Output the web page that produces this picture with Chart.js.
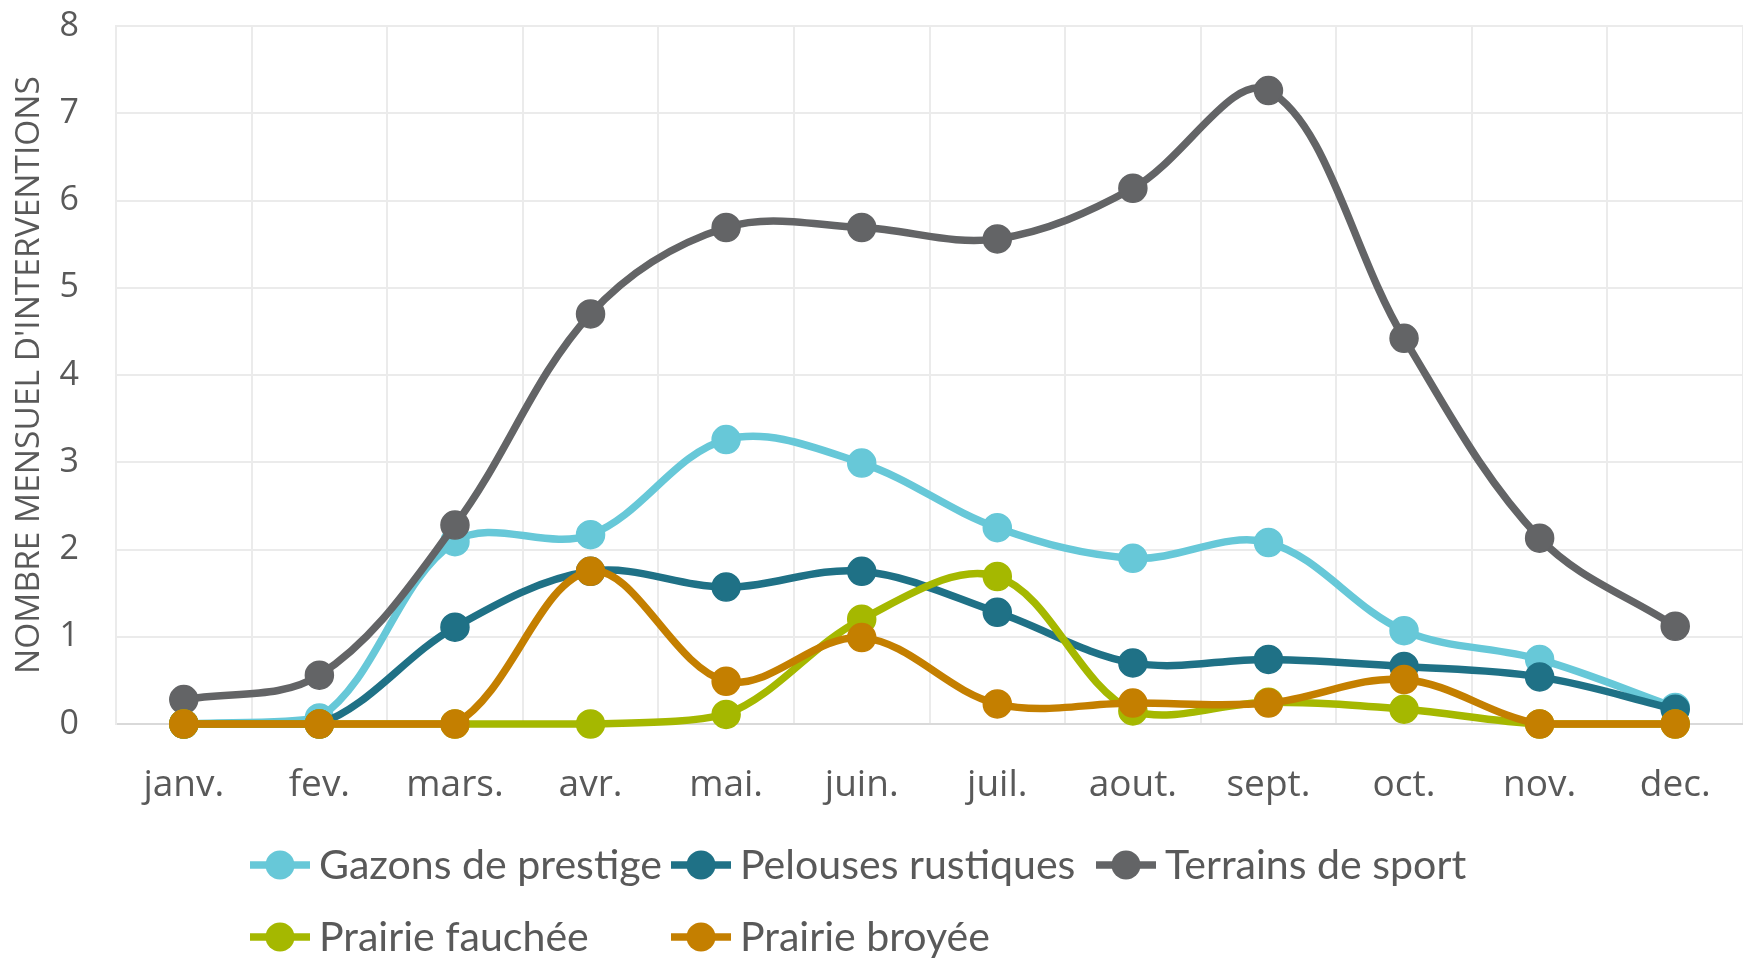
<!DOCTYPE html>
<html>
<head>
<meta charset="utf-8">
<script src="https://cdn.jsdelivr.net/npm/chart.js@4/dist/chart.umd.min.js"></script>
<style>
  html, body { margin: 0; padding: 0; background: #ffffff; }
  #wrap { width: 1743px; height: 958px; }
</style>
</head>
<body>
<div id="wrap"><canvas id="c" width="1743" height="958"></canvas></div>
<script>
// ---- Data ----
const months = ['janv.', 'fev.', 'mars.', 'avr.', 'mai.', 'juin.', 'juil.', 'aout.', 'sept.', 'oct.', 'nov.', 'dec.'];
const seriesNames = ['Gazons de prestige', 'Pelouses rustiques', 'Terrains de sport', 'Prairie fauchée', 'Prairie broyée'];
const gazonsPrestige   = [0, 0.07, 2.09, 2.17, 3.26, 2.99, 2.25, 1.90, 2.08, 1.07, 0.74, 0.19];
const pelousesRustiques = [0, 0, 1.11, 1.75, 1.57, 1.75, 1.28, 0.70, 0.74, 0.66, 0.54, 0.17];
const terrainsSport    = [0.28, 0.56, 2.28, 4.70, 5.69, 5.69, 5.56, 6.14, 7.26, 4.42, 2.13, 1.12];
const prairieFauchee   = [0, 0, 0, 0, 0.11, 1.20, 1.69, 0.15, 0.25, 0.17, 0, 0];
const prairieBroyee    = [0, 0, 0, 1.75, 0.49, 0.99, 0.23, 0.24, 0.24, 0.51, 0, 0];
const yTicks = [0, 1, 2, 3, 4, 5, 6, 7, 8];
const yTitle = "NOMBRE MENSUEL D'INTERVENTIONS";

// ---- Styles ----
const colors = ['#67C8D8', '#1F7186', '#636466', '#A5B800', '#C47F00'];
const textColor = '#595959';
const gridColor = '#EBEBEB';

function makeDataset(label, data, color, order) {
  return {
    label: label,
    data: data,
    borderColor: color,
    backgroundColor: color,
    pointBackgroundColor: color,
    pointBorderColor: color,
    borderWidth: 7.5,
    pointRadius: 14,
    pointBorderWidth: 1.5,
    pointHoverRadius: 14,
    tension: 0.35,
    fill: false,
    clip: false,
    order: order
  };
}

const allSeries = [gazonsPrestige, pelousesRustiques, terrainsSport, prairieFauchee, prairieBroyee];

// Legend laid out in aligned columns, like the original
const legendLayout = {
  markerX: [280, 701, 1126],
  rowY: [865, 937],
  textGap: 39,
  markerHalf: 30,
  refWidth: 343,
  font: 'Lato'
};

const columnLegend = {
  id: 'columnLegend',
  afterDraw(chart) {
    const ctx = chart.ctx;
    const ds = chart.data.datasets;
    ctx.save();
    let size = 40;
    ctx.font = size + 'px ' + legendLayout.font;
    const w = ctx.measureText(ds[0].label).width;
    size = Math.round(size * legendLayout.refWidth / w * 10) / 10;
    ctx.font = size + 'px ' + legendLayout.font;
    ds.forEach((d, i) => {
      const col = i % 3, row = Math.floor(i / 3);
      const cx = legendLayout.markerX[col];
      const cy = legendLayout.rowY[row];
      ctx.strokeStyle = d.borderColor;
      ctx.lineWidth = 7.5;
      ctx.lineCap = 'butt';
      ctx.beginPath();
      ctx.moveTo(cx - legendLayout.markerHalf, cy);
      ctx.lineTo(cx + legendLayout.markerHalf, cy);
      ctx.stroke();
      ctx.fillStyle = d.borderColor;
      ctx.beginPath();
      ctx.arc(cx, cy, 14.5, 0, Math.PI * 2);
      ctx.fill();
      ctx.fillStyle = textColor;
      ctx.textAlign = 'left';
      ctx.textBaseline = 'middle';
      ctx.fillText(d.label, cx + legendLayout.textGap, cy + 1);
    });
    ctx.restore();
  }
};

const chart = new Chart(document.getElementById('c'), {
  type: 'line',
  data: {
    labels: months,
    datasets: seriesNames.map((n, i) => makeDataset(n, allSeries[i], colors[i], seriesNames.length - i))
  },
  options: {
    responsive: false,
    devicePixelRatio: 1,
    animation: false,
    layout: { autoPadding: false, padding: { top: 26, right: 0, bottom: 134, left: 0 } },
    plugins: {
      legend: { display: false },
      tooltip: { enabled: false }
    },
    scales: {
      x: {
        offset: true,
        grid: { color: gridColor, lineWidth: 2, offset: true, drawTicks: false },
        border: { color: '#D9D9D9', width: 2 },
        ticks: { font: { family: 'Open Sans', size: 37 }, color: textColor, padding: 39, maxRotation: 0, autoSkip: false },
        afterFit: s => { s.height = 100; s.paddingLeft = 0; s.paddingRight = 0; }
      },
      y: {
        min: yTicks[0],
        max: yTicks[yTicks.length - 1],
        afterBuildTicks: s => { s.ticks = yTicks.map(v => ({ value: v })); },
        ticks: { font: { family: 'Open Sans', size: 34 }, color: textColor, padding: 37 },
        grid: { color: gridColor, lineWidth: 2, drawTicks: false },
        border: { color: gridColor, width: 2 },
        title: {
          display: true,
          text: yTitle,
          font: { family: 'Open Sans', size: 33.5 },
          color: textColor,
          padding: { top: 9, bottom: 0 }
        },
        afterFit: s => { s.width = 116; s.paddingTop = 0; s.paddingBottom = 0; }
      }
    }
  },
  plugins: [columnLegend]
});
</script>
</body>
</html>
